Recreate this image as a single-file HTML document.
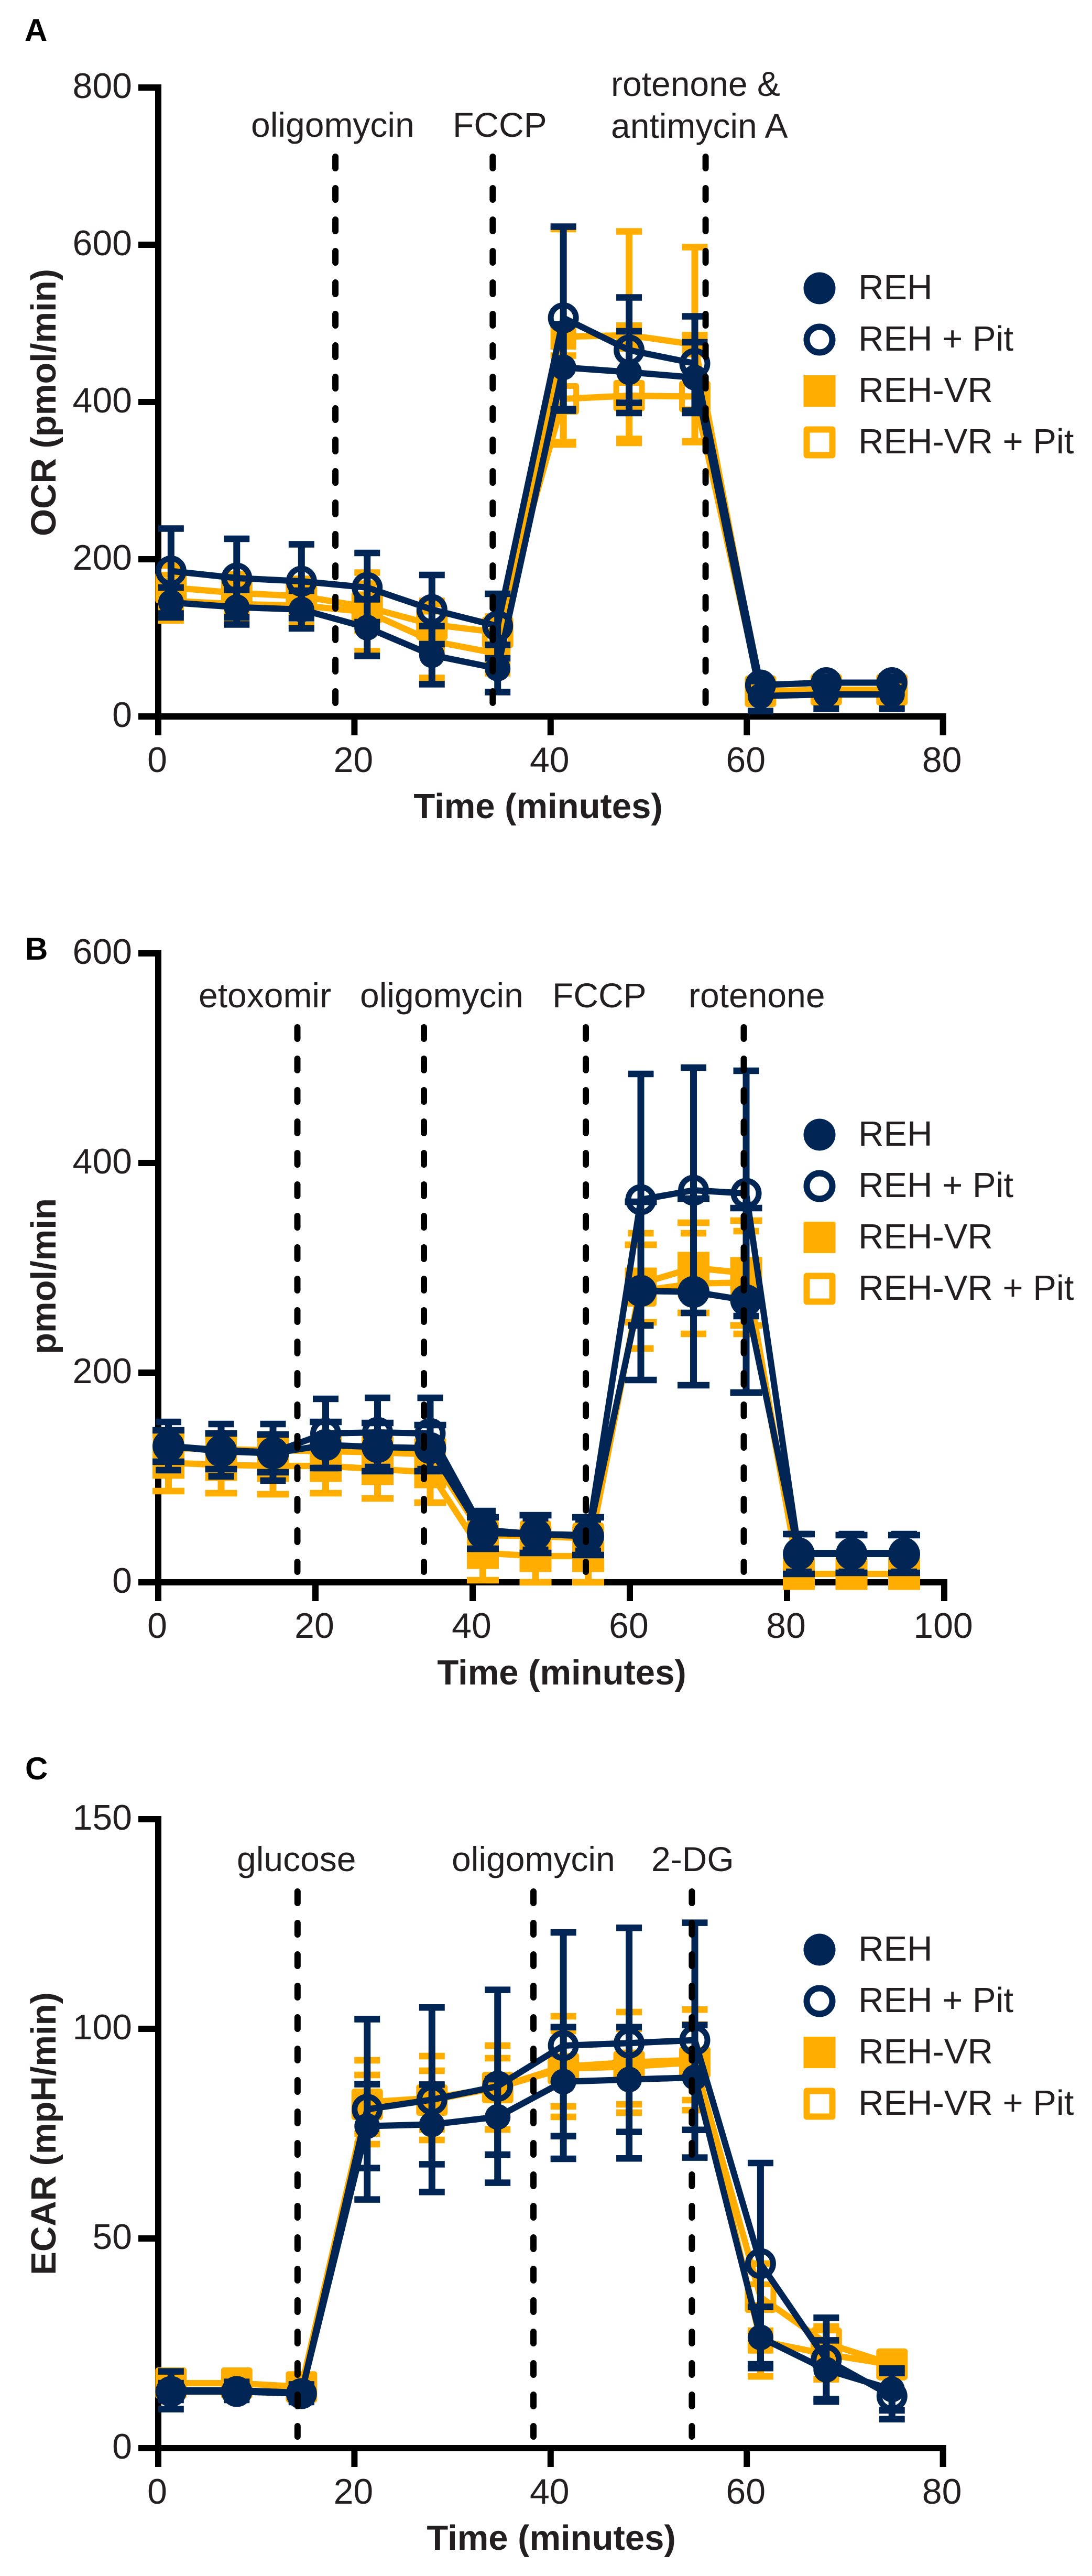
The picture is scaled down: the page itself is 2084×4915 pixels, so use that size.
<!DOCTYPE html>
<html lang="en">
<head>
<meta charset="utf-8">
<title>OCR, pmol/min and ECAR time courses</title>
<style>
html,body{margin:0;padding:0;background:#fff;}
svg{display:block;}
text{font-family:"Liberation Sans",Arial,sans-serif;fill:#231f20;}
.tick{font-size:68px;}
.ann{font-size:66px;}
.leg{font-size:67px;}
.title{font-size:67px;font-weight:bold;}
.letter{font-size:60px;font-weight:bold;fill:#000;}
</style>
</head>
<body>
<svg id="fig" xmlns="http://www.w3.org/2000/svg" width="2084" height="4915" viewBox="0 0 2084 4915">
  <rect width="2084" height="4915" fill="#fff"/>

  <g id="panelA">
    <text class="letter" x="47" y="78">A</text>
    <text class="title" transform="translate(106,768) rotate(-90)" text-anchor="middle">OCR (pmol/min)</text>
    <text class="title" x="1027" y="1561" text-anchor="middle">Time (minutes)</text>
    <text class="ann" x="479" y="261">oligomycin</text>
    <text class="ann" x="864" y="261">FCCP</text>
    <text class="ann" x="1166" y="183">rotenone &amp;</text>
    <text class="ann" x="1166" y="263">antimycin A</text>
  </g>

  <g id="panelB">
    <text class="letter" x="48" y="1831">B</text>
    <text class="title" transform="translate(106,2435) rotate(-90)" text-anchor="middle">pmol/min</text>
    <text class="title" x="1072" y="3214" text-anchor="middle">Time (minutes)</text>
    <text class="ann" x="379" y="1922">etoxomir</text>
    <text class="ann" x="687" y="1922">oligomycin</text>
    <text class="ann" x="1054" y="1922">FCCP</text>
    <text class="ann" x="1314" y="1922">rotenone</text>
  </g>

  <g id="panelC">
    <text class="letter" x="48" y="3395">C</text>
    <text class="title" transform="translate(106,4071) rotate(-90)" text-anchor="middle">ECAR (mpH/min)</text>
    <text class="title" x="1052" y="4865" text-anchor="middle">Time (minutes)</text>
    <text class="ann" x="452" y="3570">glucose</text>
    <text class="ann" x="862" y="3570">oligomycin</text>
    <text class="ann" x="1243" y="3570">2-DG</text>
  </g>
</svg>

<script>
// ---------- Panel A data (OCR, pmol/min) ----------
const aTimes = [1.3, 8, 14.6, 21.3, 27.9, 34.6, 41.3, 48, 54.7, 61.4, 68.1, 74.8];
const aEvents = [18.06, 34.1, 55.8];
const aXTicks = [0, 20, 40, 60, 80];
const aYTicks = [0, 200, 400, 600, 800];
const aRehMean = [145, 139, 136, 113, 78, 61, 444, 438, 431, 26, 28, 28];
const aRehErr = [19, 22, 24, 36, 37, 30, 55, 52, 45, 19, 18, 18];
const aRehPitMean = [185, 176, 172, 164, 136, 115, 507, 466, 449, 40, 43, 43];
const aRehPitErr = [54, 50, 47, 44, 44, 41, 116, 67, 60, 8, 8, 8];
const aVrMean = [147, 143, 141, 133, 96, 80, 483, 485, 473, 30, 32, 32];
const aVrErr = [25, 25, 25, 50, 47, 25, 137, 132, 124, 10, 10, 10];
const aVrPitMean = [164, 157, 153, 139, 117, 107, 404, 408, 407, 32, 34, 34];
const aVrPitErr = [28, 24, 22, 30, 30, 20, 55, 60, 57, 10, 10, 10];

// ---------- Panel B data (pmol/min) ----------
const bTimes = [1.3, 8, 14.6, 21.3, 27.9, 34.6, 41.3, 48, 54.7, 61.4, 68.1, 74.8, 81.5, 88.2, 94.9];
const bEvents = [17.7, 33.8, 54.4, 74.5];
const bXTicks = [0, 20, 40, 60, 80, 100];
const bYTicks = [0, 200, 400, 600];
const bRehMean = [130, 125, 123, 131, 129, 128, 47, 46, 44, 278, 277, 269, 27, 27, 27];
const bRehErr = [15, 17, 18, 22, 23, 22, 15, 18, 18, 85, 89, 88, 19, 18, 18];
const bRehPitMean = [130, 126, 124, 142, 143, 142, 50, 46, 45, 365, 374, 371, 28, 28, 28];
const bRehPitErr = [23, 25, 27, 33, 33, 34, 18, 15, 15, 120, 117, 117, 18, 18, 18];
const bVrMean = [114, 112, 111, 111, 108, 105, 28, 25, 25, 285, 300, 295, 8, 8, 8];
const bVrErr = [27, 27, 27, 26, 28, 29, 26, 25, 25, 37, 43, 50, 8, 8, 8];
const bVrPitMean = [128, 127, 126, 125, 124, 122, 45, 44, 42, 278, 285, 286, 8, 8, 8];
const bVrPitErr = [15, 15, 15, 15, 15, 15, 15, 15, 15, 55, 48, 49, 6, 6, 6];

// ---------- Panel C data (ECAR, mpH/min) ----------
const cTimes = [1.3, 8, 14.6, 21.3, 27.9, 34.6, 41.3, 48, 54.7, 61.4, 68.1, 74.8];
const cEvents = [14.2, 38.25, 54.4];
const cXTicks = [0, 20, 40, 60, 80];
const cYTicks = [0, 50, 100, 150];
const cRehMean = [13.8, 13.8, 13.2, 76.8, 77.2, 79, 87.4, 87.9, 88.4, 26.4, 18.7, 14];
const cRehErr = [4.5, 2, 2, 10, 9.5, 9, 13, 12.5, 12.5, 7.3, 7, 5];
const cRehPitMean = [13.5, 13.5, 13, 80.8, 83.1, 86.3, 96, 96.6, 97.3, 44, 21.1, 12.4];
const cRehPitErr = [2, 2, 2, 21.5, 22, 23, 27, 27.5, 28, 24, 10, 5.5];
const cVrMean = [15.5, 15.5, 14.6, 82.5, 83.5, 86, 91, 92, 92.6, 25.6, 22.4, 19.9];
const cVrErr = [2, 2, 2, 10, 10, 10, 12, 12, 12, 8.5, 6, 3];
const cVrPitMean = [15.5, 15.5, 14.6, 82, 83, 86, 90.5, 91, 92, 36, 25, 20];
const cVrPitErr = [2, 2, 2, 7, 7, 7, 9, 9, 9, 8, 4, 3];

// ---------- Legend ----------
const legendLabels = ['REH', 'REH + Pit', 'REH-VR', 'REH-VR + Pit'];
const legendKinds = ['fc', 'oc', 'fs', 'os'];

const NAVY = '#012555';
const ORANGE = '#ffad00';
const SVGNS = 'http://www.w3.org/2000/svg';

function mk(parent, tag, attrs) {
  const n = document.createElementNS(SVGNS, tag);
  for (const k in attrs) n.setAttribute(k, attrs[k]);
  parent.appendChild(n);
  return n;
}

function marker(parent, kind, color, cx, cy, filledSize) {
  let m;
  if (kind === 'fc') {
    m = mk(parent, 'circle', {cx: cx, cy: cy, r: filledSize / 2, fill: color});
  } else if (kind === 'oc') {
    m = mk(parent, 'circle', {cx: cx, cy: cy, r: 24, fill: 'none', stroke: color, 'stroke-width': 11});
  } else if (kind === 'fs') {
    m = mk(parent, 'rect', {x: cx - filledSize / 2, y: cy - filledSize / 2, width: filledSize, height: filledSize, fill: color});
  } else {
    m = mk(parent, 'rect', {x: cx - 24.5, y: cy - 24.5, width: 49, height: 49, fill: 'none', stroke: color, 'stroke-width': 11, 'stroke-linejoin': 'round'});
  }
  return m;
}

function drawSeries(g, sx, sy, times, means, errs, kind, color, filledSize, capWidth) {
  const group = mk(g, 'g', {});
  
  
  const w = kind.charAt(0) === 'f' ? capWidth : 49;
  times.forEach(function (t, i) {
    const x = sx(t);
    const yTop = sy(means[i] + errs[i]);
    const yBot = sy(Math.max(0, means[i] - errs[i]));
    const stem = mk(group, 'line', {x1: x, x2: x, y1: yTop, y2: yBot, stroke: color, 'stroke-width': 13});
    
    
    const capTop = mk(group, 'line', {x1: x - w / 2, x2: x + w / 2, y1: yTop, y2: yTop, stroke: color, 'stroke-width': 12.5});
    
    
    const capBot = mk(group, 'line', {x1: x - w / 2, x2: x + w / 2, y1: yBot, y2: yBot, stroke: color, 'stroke-width': 12.5});
    
    
  });
  const pts = times.map(function (t, i) { return sx(t) + ',' + sy(means[i]); }).join(' ');
  const line = mk(group, 'polyline', {points: pts, fill: 'none', stroke: color, 'stroke-width': 12, 'stroke-linejoin': 'miter'});
  
  
  times.forEach(function (t, i) {
    const m = marker(group, kind, color, sx(t), sy(means[i]), filledSize);
    
    
  });
}

function drawPanel(p) {
  const root = document.getElementById(p.id);
  const sx = function (v) { return p.x0 + v * p.xScale; };
  const sy = function (v) { return p.y0 - v * p.yScale; };
  const yMax = p.yTicks[p.yTicks.length - 1];
  const xMax = p.xTicks[p.xTicks.length - 1];

  const axes = mk(root, 'g', {});
  
  
  const yAxis = mk(axes, 'line', {x1: p.x0, x2: p.x0, y1: sy(yMax) - 6, y2: p.y0 + 36, stroke: '#000', 'stroke-width': 12});
  
  
  const xAxis = mk(axes, 'line', {x1: 264, x2: sx(xMax) + 6, y1: p.y0, y2: p.y0, stroke: '#000', 'stroke-width': 12});
  
  

  p.yTicks.forEach(function (v) {
    const t = mk(axes, 'line', {x1: 264, x2: p.x0, y1: sy(v), y2: sy(v), stroke: '#000', 'stroke-width': 12});
    
    
    const l = mk(axes, 'text', {x: 252, y: sy(v) + 20, 'text-anchor': 'end', class: 'tick'});
    
    
    l.textContent = String(v);
  });
  p.xTicks.forEach(function (v) {
    const t = mk(axes, 'line', {x1: sx(v), x2: sx(v), y1: p.y0, y2: p.y0 + 36, stroke: '#000', 'stroke-width': 12});
    
    
    const l = mk(axes, 'text', {x: sx(v) - 2, y: p.y0 + 106, 'text-anchor': 'middle', class: 'tick'});
    
    
    l.textContent = String(v);
  });

  drawSeries(root, sx, sy, p.times, p.vr[0], p.vr[1], 'fs', ORANGE, p.filled, p.cap);
  drawSeries(root, sx, sy, p.times, p.vrPit[0], p.vrPit[1], 'os', ORANGE, p.filled, p.cap);
  drawSeries(root, sx, sy, p.times, p.rehPit[0], p.rehPit[1], 'oc', NAVY, p.filled, p.cap);
  drawSeries(root, sx, sy, p.times, p.reh[0], p.reh[1], 'fc', NAVY, p.filled, p.cap);

  p.events.forEach(function (e) {
    const d = mk(root, 'line', {x1: sx(e), x2: sx(e), y1: p.dashTop + 6, y2: p.dashBottom, stroke: '#000', 'stroke-width': 12, 'stroke-dasharray': '22 38', 'stroke-linecap': 'round'});
    
    
  });

  const legend = mk(root, 'g', {});
  
  
  legendLabels.forEach(function (label, i) {
    const y = p.legendTop + i * 98;
    const kind = legendKinds[i];
    const color = i < 2 ? NAVY : ORANGE;
    let sym;
    if (kind === 'fc') {
      sym = mk(legend, 'circle', {cx: 1564, cy: y, r: 30.5, fill: color});
    } else if (kind === 'oc') {
      sym = mk(legend, 'circle', {cx: 1564, cy: y, r: 24.5, fill: 'none', stroke: color, 'stroke-width': 12});
    } else if (kind === 'fs') {
      sym = mk(legend, 'rect', {x: 1533.5, y: y - 30, width: 61, height: 60, fill: color});
    } else {
      sym = mk(legend, 'rect', {x: 1539.5, y: y - 24.5, width: 49, height: 49, fill: 'none', stroke: color, 'stroke-width': 12, 'stroke-linejoin': 'round'});
    }
    
    
    const txt = mk(legend, 'text', {x: 1638, y: y + 21, class: 'leg'});
    
    
    txt.textContent = label;
  });
}

drawPanel({id: 'panelA', x0: 302, y0: 1367, xScale: 18.72, yScale: 1.5, times: aTimes, events: aEvents,
  xTicks: aXTicks, yTicks: aYTicks, reh: [aRehMean, aRehErr], rehPit: [aRehPitMean, aRehPitErr],
  vr: [aVrMean, aVrErr], vrPit: [aVrPitMean, aVrPitErr], filled: 49, cap: 49,
  dashTop: 293, dashBottom: 1341, legendTop: 550});
drawPanel({id: 'panelB', x0: 302, y0: 3019, xScale: 15, yScale: 2, times: bTimes, events: bEvents,
  xTicks: bXTicks, yTicks: bYTicks, reh: [bRehMean, bRehErr], rehPit: [bRehPitMean, bRehPitErr],
  vr: [bVrMean, bVrErr], vrPit: [bVrPitMean, bVrPitErr], filled: 61, cap: 61,
  dashTop: 1954, dashBottom: 2999, legendTop: 2165});
drawPanel({id: 'panelC', x0: 302, y0: 4671, xScale: 18.72, yScale: 8, times: cTimes, events: cEvents,
  xTicks: cXTicks, yTicks: cYTicks, reh: [cRehMean, cRehErr], rehPit: [cRehPitMean, cRehPitErr],
  vr: [cVrMean, cVrErr], vrPit: [cVrPitMean, cVrPitErr], filled: 49, cap: 49,
  dashTop: 3603, dashBottom: 4649, legendTop: 3720});
</script>
</body>
</html>
